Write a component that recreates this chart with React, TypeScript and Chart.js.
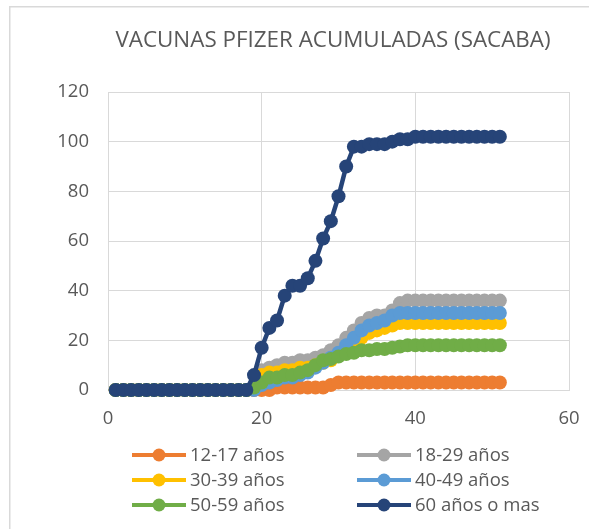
import { useEffect, useRef } from "react";
import { Chart, registerables } from "chart.js";

Chart.register(...registerables);

const titleText = "VACUNAS PFIZER ACUMULADAS (SACABA)";

const days = [1, 2, 3, 4, 5, 6, 7, 8, 9, 10, 11, 12, 13, 14, 15, 16, 17, 18, 19, 20, 21, 22, 23, 24, 25, 26, 27, 28, 29, 30, 31, 32, 33, 34, 35, 36, 37, 38, 39, 40, 41, 42, 43, 44, 45, 46, 47, 48, 49, 50, 51];

const seriesNames = ["12-17 años", "18-29 años", "30-39 años", "40-49 años", "50-59 años", "60 años o mas"];
const seriesColors = ["#ED7D31", "#A5A5A5", "#FFC000", "#5B9BD5", "#70AD47", "#264478"];

const v1217 = [0, 0, 0, 0, 0, 0, 0, 0, 0, 0, 0, 0, 0, 0, 0, 0, 0, 0, 0, 0, 0, 1, 1, 1, 1, 1, 1, 1, 2, 3, 3, 3, 3, 3, 3, 3, 3, 3, 3, 3, 3, 3, 3, 3, 3, 3, 3, 3, 3, 3, 3];
const v1829 = [0, 0, 0, 0, 0, 0, 0, 0, 0, 0, 0, 0, 0, 0, 0, 0, 0, 0, 1, 8, 9, 10, 11, 11, 12, 12, 13, 14, 16, 18, 21, 24, 27, 29, 30, 30, 32, 35, 36, 36, 36, 36, 36, 36, 36, 36, 36, 36, 36, 36, 36];
const v3039 = [0, 0, 0, 0, 0, 0, 0, 0, 0, 0, 0, 0, 0, 0, 0, 0, 0, 0, 1, 6, 7, 7, 8, 8, 9, 9, 10, 11, 12, 14, 16, 18, 21, 23, 24, 25, 26, 27, 27, 27, 27, 27, 27, 27, 27, 27, 27, 27, 27, 27, 27];
const v4049 = [0, 0, 0, 0, 0, 0, 0, 0, 0, 0, 0, 0, 0, 0, 0, 0, 0, 0, 0, 2, 3, 4, 5, 5, 6, 7, 9, 11, 13, 15, 18, 21, 24, 26, 27, 28, 30, 31, 31, 31, 31, 31, 31, 31, 31, 31, 31, 31, 31, 31, 31];
const v5059 = [0, 0, 0, 0, 0, 0, 0, 0, 0, 0, 0, 0, 0, 0, 0, 0, 0, 0, 1, 3, 5, 5, 6, 6, 7, 8, 10, 12, 12.5, 13.5, 14.5, 15, 16, 16, 16.5, 16.5, 17, 17.5, 18, 18, 18, 18, 18, 18, 18, 18, 18, 18, 18, 18, 18];
const v60 = [0, 0, 0, 0, 0, 0, 0, 0, 0, 0, 0, 0, 0, 0, 0, 0, 0, 0, 6, 17, 25, 28, 38, 42, 42, 45, 52, 61, 68, 78, 90, 98, 98, 99, 99, 99, 100, 101, 101, 102, 102, 102, 102, 102, 102, 102, 102, 102, 102, 102, 102];

const allValues = [v1217, v1829, v3039, v4049, v5059, v60];

const xTicks = [0, 20, 40, 60];
const yTicks = [0, 20, 40, 60, 80, 100, 120];

const FONT = "'Open Sans', 'Noto Sans', sans-serif";
const TEXT = "#595959";
const GRID = "#d9d9d9";

export default function App() {
  const ref = useRef<HTMLCanvasElement | null>(null);

  useEffect(() => {
    document.body.style.margin = "0";
    const canvas = ref.current;
    if (!canvas) return;

    const framePlugin = {
      id: "frame",
      beforeDraw(chart: any) {
        const ctx = chart.ctx;
        ctx.save();
        ctx.fillStyle = "#ffffff";
        ctx.fillRect(0, 0, chart.width, chart.height);
        ctx.strokeStyle = GRID;
        ctx.lineWidth = 1.5;
        ctx.beginPath();
        ctx.moveTo(9.75, chart.height + 2);
        ctx.lineTo(9.75, 6.75);
        ctx.lineTo(chart.width + 2, 6.75);
        ctx.stroke();
        ctx.restore();
      },
    };

    const titlePlugin = {
      id: "customTitle",
      afterDraw(chart: any) {
        const ctx = chart.ctx;
        ctx.save();
        ctx.font = `22.4px ${FONT}`;
        ctx.fillStyle = TEXT;
        ctx.textAlign = "center";
        ctx.textBaseline = "middle";
        ctx.fillText(titleText, 333, 41);
        ctx.restore();
      },
    };

    const legendPlugin = {
      id: "gridLegend",
      afterDraw(chart: any) {
        const ctx = chart.ctx;
        const colX = [132, 357];
        const rowY = [455, 480, 505];
        ctx.save();
        ctx.font = `18.5px ${FONT}`;
        ctx.textBaseline = "middle";
        ctx.textAlign = "left";
        chart.data.datasets.forEach((ds: any, i: number) => {
          const x = colX[i % 2];
          const y = rowY[Math.floor(i / 2)];
          ctx.strokeStyle = ds.borderColor;
          ctx.lineWidth = 4;
          ctx.beginPath();
          ctx.moveTo(x, y);
          ctx.lineTo(x + 54, y);
          ctx.stroke();
          ctx.fillStyle = ds.borderColor;
          ctx.beginPath();
          ctx.arc(x + 27, y, 6.5, 0, Math.PI * 2);
          ctx.fill();
          ctx.fillStyle = TEXT;
          ctx.fillText(ds.label, x + 58, y + 1);
        });
        ctx.restore();
      },
    };

    const datasets = seriesNames.map((name, i) => ({
      label: name,
      data: days.map((d, j) => ({ x: d, y: allValues[i][j] })),
      borderColor: seriesColors[i],
      backgroundColor: seriesColors[i],
      borderWidth: 4.5,
      pointRadius: 7,
      pointBorderWidth: 0,
      pointHoverRadius: 7,
      pointBackgroundColor: seriesColors[i],
      tension: 0,
      order: seriesNames.length - 1 - i,
      clip: false as any,
    }));

    const chart = new Chart(canvas, {
      type: "line",
      data: { datasets },
      options: {
        animation: false,
        responsive: false,
        devicePixelRatio: 1,
        layout: { padding: { top: 92, left: 0, right: 20, bottom: 99 } },
        plugins: {
          legend: { display: false },
          title: { display: false },
          tooltip: { enabled: false },
        },
        scales: {
          x: {
            type: "linear",
            min: xTicks[0],
            max: xTicks[xTicks.length - 1],
            afterBuildTicks: (scale: any) => {
              scale.ticks = xTicks.map((v) => ({ value: v }));
            },
            afterFit: (scale: any) => {
              scale.height = 40;
              scale.paddingLeft = 10;
              scale.paddingRight = 10;
            },
            grid: { color: GRID, lineWidth: 1, drawTicks: false },
            border: { color: GRID, width: 1 },
            ticks: { color: TEXT, font: { family: FONT, size: 18.5 }, padding: 18, maxRotation: 0 },
          },
          y: {
            type: "linear",
            min: yTicks[0],
            max: yTicks[yTicks.length - 1],
            afterBuildTicks: (scale: any) => {
              scale.ticks = yTicks.map((v) => ({ value: v }));
            },
            afterFit: (scale: any) => {
              scale.width = 108;
            },
            grid: { color: GRID, lineWidth: 1, drawTicks: false },
            border: { color: GRID, width: 1 },
            ticks: { color: TEXT, font: { family: FONT, size: 18.5 }, padding: 19 },
          },
        },
      },
      plugins: [framePlugin, titlePlugin, legendPlugin],
    });

    return () => chart.destroy();
  }, []);

  return (
    <div style={{ width: 589, height: 529 }}>
      <canvas ref={ref} width={589} height={529} style={{ display: "block", width: 589, height: 529 }} />
    </div>
  );
}
